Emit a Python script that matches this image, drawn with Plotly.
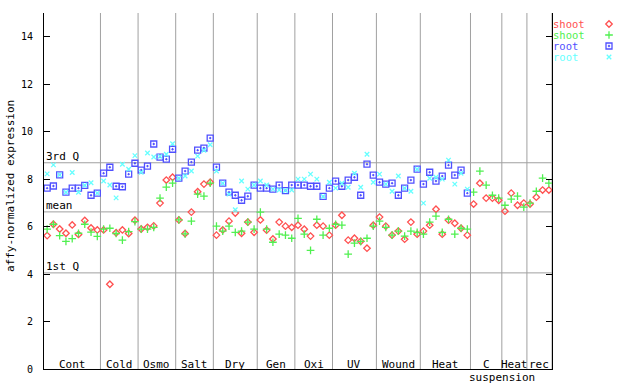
import plotly.graph_objects as go

# ---------------- data ----------------
group_names = ["Cont", "Cold", "Osmo", "Salt", "Dry", "Gen", "Oxi", "UV", "Wound", "Heat", "C suspension", "Heat", "rec"]
group_sizes = [9, 6, 6, 6, 7, 6, 6, 7, 7, 8, 5, 4, 4]

shoot_rep1 = [5.62, 6.10, 5.90, 5.72, 6.07, 5.67, 6.26, 5.94, 5.86,
              5.86, 3.57, 5.74, 5.86, 5.71, 6.27,
              5.90, 5.97, 6.03, 6.99, 7.96, 8.08,
              6.28, 5.71, 6.61, 7.47, 7.79, 7.87,
              5.64, 5.86, 6.23, 6.57, 5.72, 6.19, 5.76,
              6.28, 5.85, 5.48, 6.19, 6.02, 5.97,
              6.06, 5.89, 5.60, 6.06, 6.02, 5.64,
              6.06, 6.48, 5.43, 5.51, 5.38, 5.09, 6.06,
              6.40, 6.02, 5.64, 5.81, 5.47, 6.19, 5.68,
              5.81, 6.06, 6.73, 5.68, 6.27, 6.14, 5.93, 5.64,
              6.95, 7.83, 7.20, 7.20, 7.11,
              6.65, 7.41, 6.90, 6.99,
              6.95, 7.24, 7.54, 7.54]

shoot_rep2 = [5.89, 6.10, 5.62, 5.38, 5.49, 5.72, 6.10, 5.77, 5.59,
              5.89, 5.93, 5.71, 5.43, 5.79, 6.21,
              5.89, 5.89, 5.97, 7.20, 7.66, 7.83,
              6.28, 5.69, 6.23, 7.37, 7.28, 7.83,
              6.02, 5.81, 6.02, 5.76, 5.81, 6.19, 5.89,
              6.61, 5.89, 5.34, 5.68, 5.64, 5.51,
              6.35, 5.68, 5.00, 6.31, 5.64, 5.93,
              6.10, 6.06, 4.84, 5.30, 5.38, 5.51, 6.02,
              6.23, 5.97, 5.64, 5.81, 5.60, 5.81, 5.76,
              5.68, 6.19, 6.44, 5.76, 6.31, 5.68, 5.93, 5.89,
              7.45, 8.34, 7.75, 7.32, 7.20,
              6.90, 7.16, 7.28, 6.82,
              6.99, 7.49, 8.04, 7.83]

root_rep1 = [7.62, 7.71, 8.18, 7.45, 7.62, 7.62, 7.74, 7.32, 7.41,
             8.25, 8.50, 7.70, 7.68, 8.21, 8.67,
             8.38, 8.55, 9.48, 8.93, 8.84, 9.26,
             8.04, 8.34, 8.72, 9.22, 9.31, 9.73,
             8.51, 7.83, 7.45, 7.32, 7.11, 7.28, 7.75,
             7.62, 7.62, 7.58, 7.75, 7.52, 7.75,
             7.75, 7.75, 7.70, 7.70, 7.27, 7.62,
             7.92, 7.70, 7.96, 8.08, 7.32, 8.63, 8.17,
             7.87, 7.79, 7.83, 7.32, 7.62, 7.96, 8.42,
             7.79, 8.29, 7.92, 8.13, 8.59, 8.17, 8.38, 7.41]

root_rep2 = [8.22, 8.60, 8.18, 7.45, 8.28, 7.45, 7.74, 7.85, 7.41,
             7.92, 7.75, 7.21, 8.63, 8.42, 8.99,
             8.29, 9.10, 8.93, 8.96, 9.05, 9.49,
             8.04, 8.13, 8.34, 8.97, 9.22, 9.45,
             8.34, 7.83, 7.37, 6.71, 7.92, 7.58, 7.75,
             7.92, 7.75, 7.58, 7.54, 7.52, 7.54,
             8.00, 8.00, 8.21, 8.00, 7.27, 7.87,
             7.62, 7.83, 7.66, 8.25, 7.66, 9.05, 7.87,
             8.21, 7.79, 7.49, 8.13, 7.62, 7.49, 8.42,
             6.99, 8.04, 8.08, 8.00, 8.80, 7.79, 8.25, 7.58]

stat_names = ["3rd Q", "mean", "1st Q"]
stat_values = [8.69, 6.62, 4.05]

y_ticks = [0, 2, 4, 6, 8, 10, 12, 14, 15]
y_tick_labels = ["0", "2", "4", "6", "8", "10", "12", "14", ""]

series_names = ["shoot", "shoot", "root", "root"]
series_colors = ["#ff5050", "#50f050", "#5050ff", "#66ffff"]
series_symbols = ["diamond-open", "cross-thin-open", "square-open-dot", "x-thin-open"]
series_sizes = [5, 5.5, 6, 4.5]

# ---------------- figure ----------------
FONT = "DejaVu Sans Mono"
n = len(shoot_rep1)
W, H = 640, 384
ML, MR, MT, MB = 44, 0, 13, 15
plot_w = W - ML - MR
xdom_end = 508 / plot_w

fig = go.Figure()
all_series = [shoot_rep1, shoot_rep2, root_rep1, root_rep2]
for vals, nm, col, sym, sz in zip(all_series, series_names, series_colors, series_symbols, series_sizes):
    fig.add_trace(go.Scatter(
        x=list(range(len(vals))), y=vals, mode="markers", name=nm, showlegend=False,
        marker=dict(symbol=sym, size=sz, color=col, line=dict(color=col, width=1.3)),
        cliponaxis=False))

# custom legend: text on left, symbol on right (overlay pixel axes)
legend_rows = [24, 35, 46, 57]
for nm, col, sym, sz, yy in zip(series_names, series_colors, series_symbols, series_sizes, legend_rows):
    fig.add_trace(go.Scatter(
        x=[609], y=[yy], mode="markers", xaxis="x2", yaxis="y2", showlegend=False,
        marker=dict(symbol=sym, size=sz, color=col, line=dict(color=col, width=1.3)),
        cliponaxis=False, hoverinfo="skip"))

shapes = []
annotations = []
# group separators and labels
start = 0
for name, cnt in zip(group_names, group_sizes):
    end = start + cnt
    shapes.append(dict(type="line", xref="x", yref="paper", x0=end - 0.5, x1=end - 0.5, y0=0, y1=1,
                       line=dict(color="#a0a0a0", width=1), layer="below"))
    center = start + (cnt - 1) / 2
    parts = name.split(" ")
    annotations.append(dict(x=center, y=(369 - 364) / 356, xref="x", yref="paper", text=parts[0],
                            showarrow=False, xanchor="center", yanchor="middle",
                            font=dict(family=FONT, size=11, color="black")))
    if len(parts) > 1:
        annotations.append(dict(x=center, y=(369 - 377) / 356, xref="x", yref="paper", text=parts[1],
                                showarrow=False, xanchor="center", yanchor="middle", xshift=16,
                                font=dict(family=FONT, size=11, color="black")))
    start = end

for nm, v in zip(stat_names, stat_values):
    shapes.append(dict(type="line", xref="paper", yref="y", x0=0, x1=xdom_end, y0=v, y1=v,
                       line=dict(color="#a0a0a0", width=1), layer="below"))
    annotations.append(dict(x=0, y=v, xref="paper", yref="y", text=nm, showarrow=False,
                            xanchor="left", yanchor="bottom", xshift=0, yshift=-2,
                            font=dict(family=FONT, size=11, color="black")))

# legend texts
for nm, col, yy in zip(series_names, series_colors, legend_rows):
    annotations.append(dict(x=551, y=yy, xref="x2", yref="y2", text=nm, showarrow=False,
                            xanchor="left", yanchor="middle",
                            font=dict(family=FONT, size=10.5, color=col)))

# y-axis title
annotations.append(dict(x=-34 / plot_w, y=(369 - 186) / 356, xref="paper", yref="paper",
                        text="affy-normalized expression", textangle=-90, showarrow=False,
                        xanchor="center", yanchor="middle",
                        font=dict(family=FONT, size=11, color="black")))

fig.update_layout(
    width=W, height=H,
    margin=dict(l=ML, r=MR, t=MT, b=MB, pad=0),
    paper_bgcolor="white", plot_bgcolor="rgba(0,0,0,0)",
    showlegend=False,
    xaxis=dict(domain=[0, xdom_end], range=[-0.5, n - 0.5], showgrid=False, zeroline=False,
               showline=True, linecolor="black", linewidth=1, ticks="", showticklabels=False),
    yaxis=dict(range=[0, 15], tickvals=y_ticks, ticktext=y_tick_labels, ticks="inside", ticklen=6,
               tickcolor="black", showgrid=False, zeroline=False, showline=True, linecolor="black",
               linewidth=1, mirror="ticks", ticklabelstandoff=8,
               tickfont=dict(family=FONT, size=10, color="black")),
    xaxis2=dict(domain=[0, 1], range=[ML, W], visible=False, anchor="y2", fixedrange=True),
    yaxis2=dict(domain=[0, 1], range=[H - MB, MT], visible=False, anchor="x2", fixedrange=True),
    shapes=shapes, annotations=annotations,
)

fig.write_html("out.html", config={"displayModeBar": False},
               post_script="document.body.style.margin='0px';document.body.style.padding='0px';")
